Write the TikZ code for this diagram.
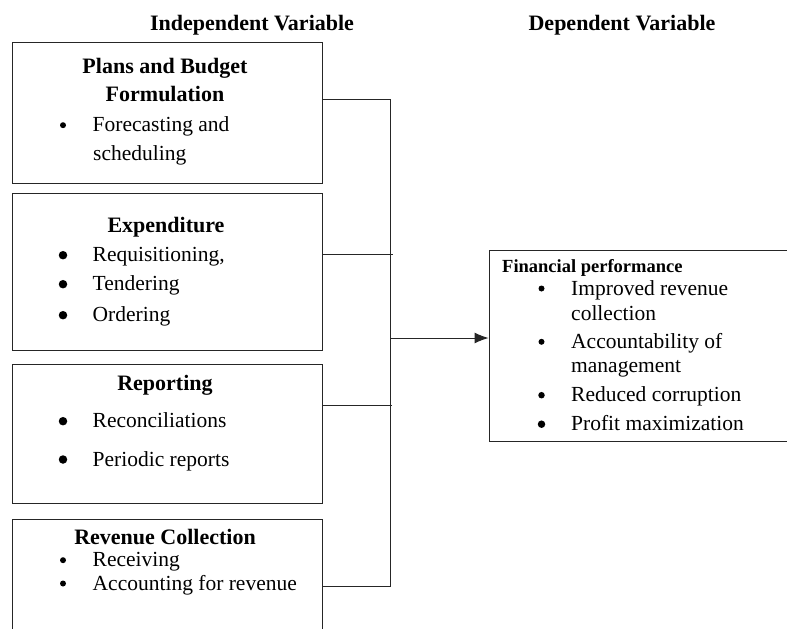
\documentclass[tikz,border=0pt]{standalone}
\usepackage{fontspec}
\setmainfont{Liberation Serif}
\usetikzlibrary{arrows.meta}

\tikzset{
  varbox/.style={draw=black!85, line width=0.9pt, minimum width=310pt, inner sep=0pt},
  txt/.style={inner sep=0pt, anchor=base west, font=\fontsize{21.5}{25}\selectfont},
  head/.style={inner sep=0pt, anchor=base, font=\fontsize{22}{26}\selectfont\bfseries},
  dot/.style={circle, fill=black, inner sep=0pt},
  link/.style={draw=black!85, line width=0.9pt},
}

\begin{document}
\begin{tikzpicture}[x=1pt,y=-1pt]
    \useasboundingbox (0,0) rectangle (787,629);

    % titles
    \node[head] (indep) at (252,30) {Independent Variable};
    \node[head] (dep) at (622,30) {Dependent Variable};

    % boxes
    \node[varbox, minimum height=141pt] (plans) at (167,112.5) {};
    \node[varbox, minimum height=157pt] (expend) at (167,271.7) {};
    \node[varbox, minimum height=139pt] (report) at (167,433.7) {};
    \node[varbox, minimum height=130pt] (revenue) at (167,584) {};
    \node[varbox, minimum width=301pt, minimum height=191pt] (finperf) at (639.5,345.5) {};

    % headings
    \node[head] (hplans) at (165,73.3) {Plans and Budget};
    \node[head] (hplansb) at (165,101.7) {Formulation};
    \node[head] (hexpend) at (166,232) {Expenditure};
    \node[head] (hreport) at (165,390) {Reporting};
    \node[head] (hrevenue) at (165,544) {Revenue Collection};
    \node[inner sep=0pt, anchor=base west, font=\fontsize{18.5}{22}\selectfont\bfseries] (hfin) at (502,272.3) {Financial performance};

    % bullet items
    \foreach \n/\x/\y/\s/\t in {a/63/131.7/6/Forecasting and, b/63/261.7/8.5/{Requisitioning,},
        c/63/290.7/8.5/Tendering, d/63/321.7/8.5/Ordering, e/63/427.7/8.5/Reconciliations,
        f/63/466/8.5/Periodic reports, g/63/566.7/6/Receiving, h/63/590/6/Accounting for revenue,
        i/541.5/295/6/Improved revenue, j/541.5/348.3/6/Accountability of,
        k/541.5/401.7/6.5/Reduced corruption, l/541.5/430.7/7.5/Profit maximization} {
        \node[dot, minimum size=\s pt] (dot\n) at (\x,\y-6.5) {};
        \node[txt] (item\n) at (\x+29.5,\y) {\t};
    }
    \node[txt] (itema2) at (93,160) {scheduling};
    \node[txt] (itemi2) at (571,320) {collection};
    \node[txt] (itemj2) at (571,372.7) {management};

    % connectors
    \coordinate (j1) at (390,99);
    \coordinate (j2) at (393,254);
    \coordinate (j3) at (392,405);
    \coordinate (j4) at (390,586);
    \coordinate (bus) at (390,338);
    \draw[link] (plans.east |- j1) -- (j1) -- (j4) -- (revenue.east |- j4);
    \draw[link] (expend.east |- j2) -- (j2);
    \draw[link] (report.east |- j3) -- (j3);
    \draw[link, -{Latex[length=14pt,width=11pt]}] (bus) -- (finperf.west |- bus);
\end{tikzpicture}
\end{document}
